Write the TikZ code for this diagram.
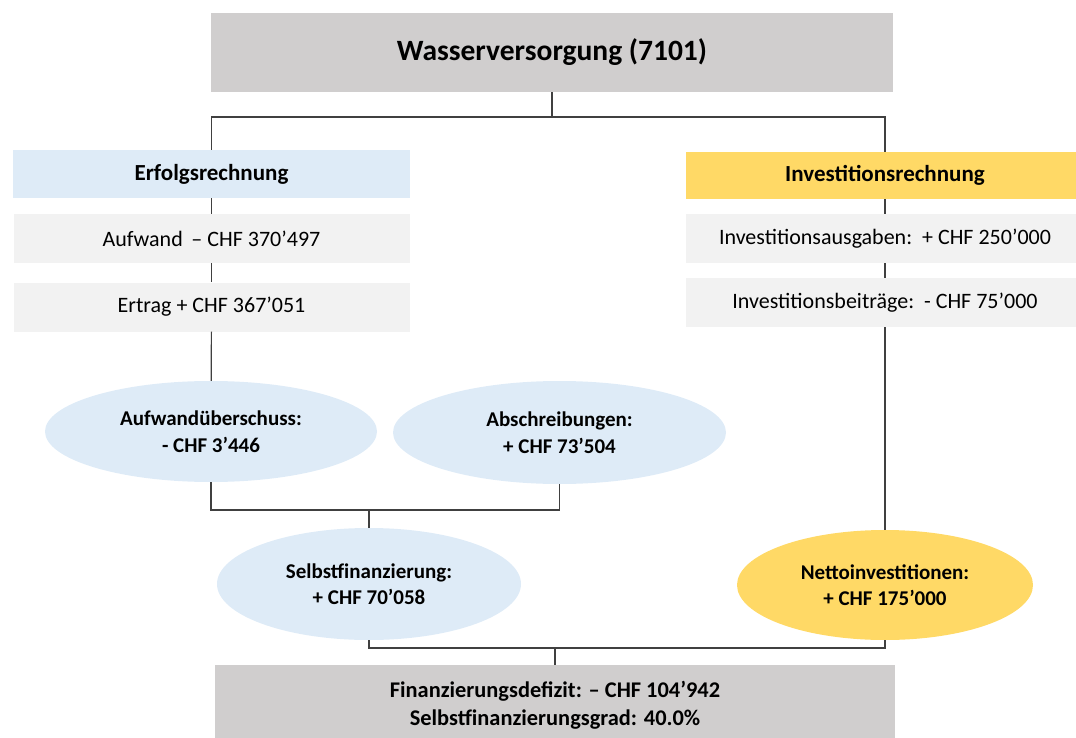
\documentclass[tikz,border=0pt]{standalone}
\usepackage{fontspec}
\setmainfont{Carlito}
\usepackage{tikz}
\usetikzlibrary{shapes.geometric}
\usepackage{xcolor}

\definecolor{titlegray}{HTML}{D0CECE}
\definecolor{paleblue}{HTML}{DEEBF7}
\definecolor{sunyellow}{HTML}{FFD966}
\definecolor{itemgray}{HTML}{F2F2F2}
\definecolor{linegray}{HTML}{404040}

\begin{document}
\begin{tikzpicture}[x=1pt,y=-1pt,
        flat/.style={rectangle, inner sep=0pt, align=center},
        head/.style={flat, font=\fontsize{23}{26}\selectfont\bfseries},
        item/.style={flat, fill=itemgray, minimum width=396pt, minimum height=49pt,
                     font=\fontsize{22}{26}\selectfont},
        oval/.style={ellipse, inner sep=0pt, align=center,
                     font=\fontsize{21}{26.5}\selectfont\bfseries},
        link/.style={draw=linegray, line width=1.2pt}]
        \useasboundingbox (0,0) rectangle (1076,738);

        % top
        \node[flat, fill=titlegray, minimum width=682pt, minimum height=79pt,
              font=\fontsize{29.5}{32}\selectfont\bfseries] (wasser) at (552,52.5) {Wasserversorgung (7101)};

        % left column
        \node[head, fill=paleblue, minimum width=397pt, minimum height=48pt] (erfolg) at (211.5,174) {Erfolgsrechnung};
        \node[item] (aufwand) at (211.5,238.5) {Aufwand \,– CHF 370’497};
        \node[item] (ertrag) at (211.5,307) {Ertrag + CHF 367’051};

        % right column
        \node[head, fill=sunyellow, minimum width=398pt, minimum height=47pt] (invest) at (885,175.5) {Investitionsrechnung};
        \node[item, minimum width=398pt] (ausgaben) at (885,238.5) {Investitionsausgaben:\ \ + CHF 250’000};
        \node[item, minimum width=398pt] (beitraege) at (885,302.5) {Investitionsbeiträge:\ \ - CHF 75’000};

        % ovals
        \node[oval, fill=paleblue, minimum width=332pt, minimum height=101pt] (ueberschuss) at (211,431.5) {Aufwandüberschuss:\\- CHF 3’446};
        \node[oval, fill=paleblue, minimum width=333pt, minimum height=103pt] (abschreib) at (559.5,432.5) {Abschreibungen:\\+ CHF 73’504};
        \node[oval, fill=paleblue, minimum width=304pt, minimum height=112pt] (selbst) at (369,584) {Selbstfinanzierung:\\+ CHF 70’058};
        \node[oval, fill=sunyellow, minimum width=296pt, minimum height=110pt] (netto) at (885,585) {Nettoinvestitionen:\\+ CHF 175’000};

        % bottom
        \node[flat, fill=titlegray, minimum width=680pt, minimum height=80pt,
              font=\fontsize{22.4}{28}\selectfont\bfseries] (defizit) at (555,705) {Finanzierungsdefizit: – CHF 104’942\\Selbstfinanzierungsgrad: 40.0\%};

        % connectors
        \coordinate (split1) at (552,117);
        \coordinate (split2) at (369,510);
        \coordinate (split3) at (555,648);
        \draw[link] (wasser.south) -- (split1);
        \draw[link] (erfolg.north) |- (split1) -| (invest.north);
        \draw[link] (erfolg) -- (aufwand);
        \draw[link] (aufwand) -- (ertrag);
        \draw[link] (ertrag) -- (ueberschuss);
        \draw[link] (invest) -- (ausgaben);
        \draw[link] (ausgaben) -- (beitraege);
        \draw[link] (beitraege) -- (netto);
        \draw[link] (ueberschuss.south) |- (split2) -| (abschreib.south);
        \draw[link] (split2) -- (selbst.north);
        \draw[link] (selbst.south) |- (split3) -| (netto.south);
        \draw[link] (split3) -- (defizit.north);
    \end{tikzpicture}
\end{document}
